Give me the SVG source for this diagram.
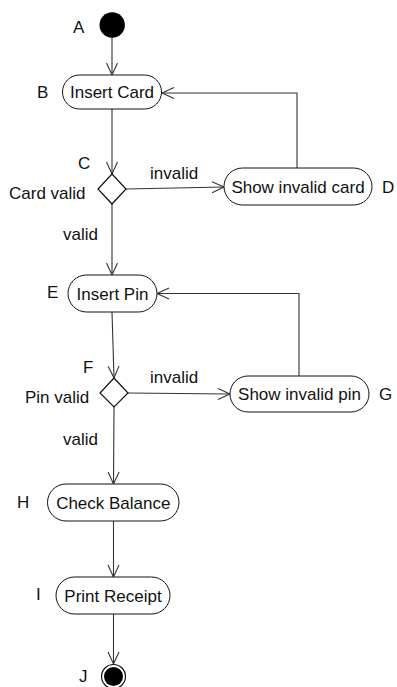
<svg xmlns="http://www.w3.org/2000/svg" width="397" height="687" viewBox="0 0 397 687">
  <defs>
    <style>
      text { font-family: "Liberation Sans", Arial, sans-serif; font-size: 17px; fill: #111; }
      .mid { text-anchor: middle; }
      .act { fill: #fff; stroke: #111; stroke-width: 1; }
      .dec { fill: #fff; stroke: #111; stroke-width: 1.2; }
      .edge { fill: none; stroke: #333; stroke-width: 1.1; marker-end: url(#open); }
    </style>
    <marker id="open" markerUnits="userSpaceOnUse" markerWidth="16" markerHeight="14" viewBox="-13 -7 14 14" refX="0" refY="0" orient="auto" overflow="visible">
      <path d="M-12,-5.5 L0,0 L-12,5.5" fill="none" stroke="#333" stroke-width="1.1"/>
    </marker>
  </defs>
  <rect width="397" height="687" fill="#fff"/>

  <!-- connectors -->
  <g id="connectors">
    <line class="edge" x1="112" y1="37.5" x2="112" y2="75"/>
    <line class="edge" x1="112" y1="109" x2="112" y2="174"/>
    <line class="edge" x1="126" y1="189" x2="224" y2="187"/>
    <polyline class="edge" points="297,168 297,93 162,93"/>
    <line class="edge" x1="112" y1="204" x2="112" y2="275"/>
    <line class="edge" x1="112" y1="312" x2="114" y2="378"/>
    <line class="edge" x1="128" y1="393" x2="230" y2="394"/>
    <polyline class="edge" points="299,376 299,293.5 157,293.5"/>
    <line class="edge" x1="114" y1="407" x2="113.5" y2="484"/>
    <line class="edge" x1="113.5" y1="521" x2="113.5" y2="577"/>
    <line class="edge" x1="113.5" y1="614" x2="113.5" y2="664"/>
  </g>

  <!-- start -->
  <g id="A">
    <circle cx="112.2" cy="25" r="12.7" fill="#000"/>
    <text x="73" y="33">A</text>
  </g>

  <g id="B">
    <rect class="act" x="62.5" y="75" width="99" height="34" rx="17"/>
    <text class="mid" x="112" y="98">Insert Card</text>
    <text x="37" y="98">B</text>
  </g>

  <g id="C">
    <polygon class="dec" points="112,174 126,189 112,204 98,189"/>
    <text x="78" y="169">C</text>
    <text x="9" y="199">Card valid</text>
    <text x="150" y="179">invalid</text>
    <text x="63" y="240">valid</text>
  </g>

  <g id="D">
    <rect class="act" x="224" y="168" width="148" height="37" rx="18.5"/>
    <text class="mid" x="298" y="192.5">Show invalid card</text>
    <text x="382" y="193">D</text>
  </g>

  <g id="E">
    <rect class="act" x="68" y="275" width="89" height="37" rx="18.5"/>
    <text class="mid" x="112.5" y="299.5">Insert Pin</text>
    <text x="47" y="298">E</text>
  </g>

  <g id="F">
    <polygon class="dec" points="114,378 128,393 114,407 100,393"/>
    <text x="83" y="373">F</text>
    <text x="25" y="403">Pin valid</text>
    <text x="150" y="383">invalid</text>
    <text x="63" y="445">valid</text>
  </g>

  <g id="G">
    <rect class="act" x="230" y="376" width="139" height="36" rx="18"/>
    <text class="mid" x="299.5" y="400">Show invalid pin</text>
    <text x="379" y="400">G</text>
  </g>

  <g id="H">
    <rect class="act" x="47.5" y="484" width="131.5" height="37" rx="18.5"/>
    <text class="mid" x="113.3" y="508.5">Check Balance</text>
    <text x="17" y="508">H</text>
  </g>

  <g id="I">
    <rect class="act" x="56" y="577" width="114" height="37" rx="18.5"/>
    <text class="mid" x="113" y="601.5">Print Receipt</text>
    <text x="36" y="600">I</text>
  </g>

  <!-- end -->
  <g id="J">
    <circle cx="113.5" cy="676.5" r="12" fill="#fff" stroke="#111" stroke-width="1.2"/>
    <circle cx="113.5" cy="676.5" r="9.5" fill="#000"/>
    <text x="79" y="682">J</text>
  </g>
</svg>
